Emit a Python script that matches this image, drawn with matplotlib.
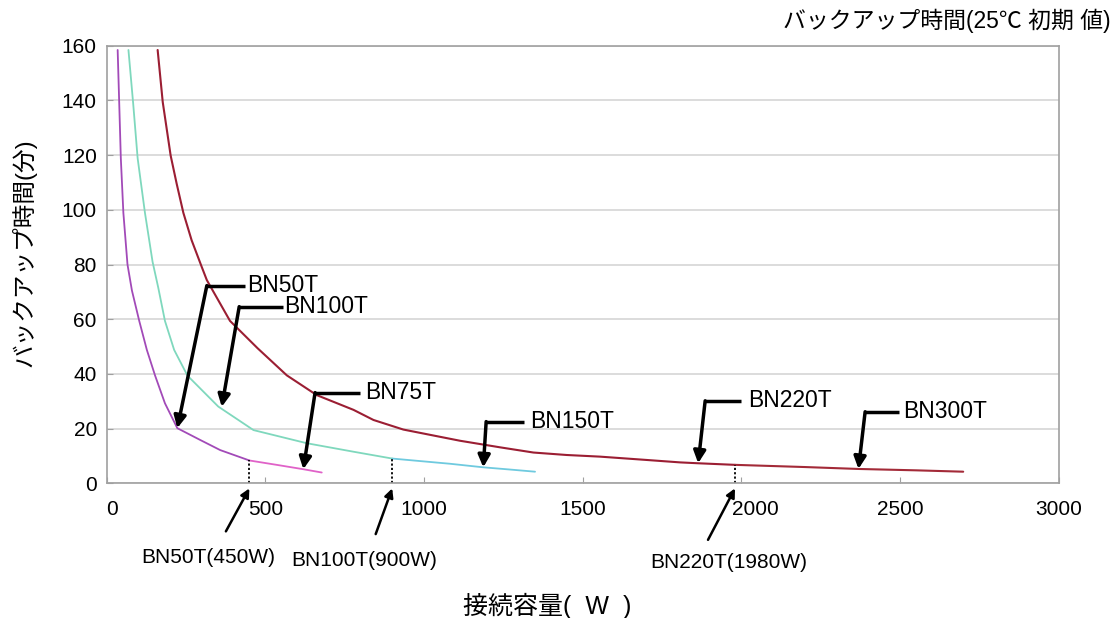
import matplotlib
matplotlib.use("Agg")
import matplotlib.pyplot as plt
import matplotlib.transforms as mtransforms

plt.rcParams['font.family'] = ['Liberation Sans', 'Noto Sans CJK JP', 'DejaVu Sans']

# backup time curves (x = load W, y = minutes)
bn50t_x = [35, 40, 45, 53, 66, 80, 103, 127, 153, 184, 223, 295, 358, 450]
bn50t_y = [158.4, 138.7, 118.8, 98.9, 80, 70.5, 59.4, 48.8, 39.4, 29.3, 20.2, 15.9, 12.2, 8.4]
bn75t_x = [450, 536, 620, 678]
bn75t_y = [8.4, 6.8, 5.2, 4.0]

bn100t_x = [69, 84, 98, 121, 145, 163, 184, 213, 255, 352, 463, 631, 778, 900]
bn100t_y = [158.4, 138.7, 118.8, 98.9, 81, 71.5, 59.4, 48.8, 39.4, 28.1, 19.5, 14.7, 11.6, 9.1]
bn150t_x = [900, 1082, 1187, 1270, 1350]
bn150t_y = [9.1, 7.2, 5.9, 5.1, 4.3]

bn220t_x = [161, 177, 202, 221, 242, 268, 300, 316, 389, 476, 568, 662, 778, 841,
            935, 1114, 1240, 1345, 1450, 1555, 1700, 1807, 1860, 1980]
bn220t_y = [158.4, 139.4, 119.8, 109.5, 98.9, 88.9, 79.1, 74.3, 59.4, 49.4, 39.5, 32.3, 26.9, 23.2,
            19.7, 15.6, 13.2, 11.3, 10.4, 9.8, 8.6, 7.7, 7.4, 6.8]
bn300t_x = [1980, 2200, 2369, 2550, 2699]
bn300t_y = [6.8, 6.0, 5.3, 4.8, 4.3]

# labelled models and where they point
model_names = ['BN50T', 'BN100T', 'BN75T', 'BN150T', 'BN220T', 'BN300T']
model_text = [(442, 72.3), (559, 64.6), (814, 33.2), (1334, 22.6), (2021, 30.2), (2511, 26.2)]
model_line = [(437, 316), (555, 418), (799, 657), (1316, 1196), (2000, 1886), (2496, 2390)]
model_tip = [(223, 20.2), (363, 28), (620, 5.2), (1187, 5.9), (1864, 7.4), (2369, 5.3)]

# rated capacities marked under the axis
rated_names = ['BN50T(450W)', 'BN100T(900W)', 'BN220T(1980W)']
rated_w = [450, 900, 1980]
rated_t = [8.4, 9.1, 6.8]
rated_text = [(320, -27.2), (811, -28.3), (1961, -29)]
rated_tail = [(376, -17.5), (848, -18.5), (1895, -20.6)]

fig = plt.figure(figsize=(11.18, 6.18), dpi=100)
ax = fig.add_axes([0.0953, 0.2177, 0.8517, 0.7085])

style = dict(solid_joinstyle='round', solid_capstyle='round')
ax.plot(bn50t_x, bn50t_y, color='#a24ab8', lw=1.3, **style)
ax.plot(bn75t_x, bn75t_y, color='#e062c8', lw=1.3, **style)
ax.plot(bn100t_x, bn100t_y, color='#7fd8bd', lw=1.3, **style)
ax.plot(bn150t_x, bn150t_y, color='#6fcadf', lw=1.3, **style)
ax.plot(bn220t_x, bn220t_y, color='#9b1e33', lw=1.5, **style)
ax.plot(bn300t_x, bn300t_y, color='#a32a38', lw=1.5, **style)

ax.set_xlim(0, 3000)
ax.set_ylim(0, 160)
ax.set_xticks(range(0, 3001, 500))
ax.set_yticks(range(0, 161, 20))
ax.grid(axis='y', color='#d6d6d6', lw=1.2)
ax.set_axisbelow(True)
for s in ax.spines.values():
    s.set_color('#a0a0a0')
    s.set_linewidth(1.2)
ax.tick_params(axis='both', direction='in', length=4, color='#a0a0a0',
               labelsize=15, labelcolor='black')
ax.tick_params(axis='x', pad=12)
ax.tick_params(axis='y', pad=7)

# the reference nudges a couple of x labels
xlabels = ax.get_xticklabels()
xlabels[0].set_horizontalalignment('left')
xlabels[4].set_transform(xlabels[4].get_transform() +
                         mtransforms.ScaledTranslation(14 / 100, 0, fig.dpi_scale_trans))

for name, (tx, ty), (lx0, lx1), (px, py) in zip(model_names, model_text, model_line, model_tip):
    ax.text(tx, ty, name, fontsize=16.5, va='center', ha='left')
    ax.plot([lx0, lx1], [ty, ty], color='black', lw=2.5, solid_capstyle='butt')
    ax.annotate('', xy=(px, py), xytext=(lx1, ty),
                arrowprops=dict(arrowstyle='-|>', color='black', lw=2.5,
                                mutation_scale=18, shrinkA=0, shrinkB=0))

for name, w, t, (tx, ty), (ax0, ay0) in zip(rated_names, rated_w, rated_t, rated_text, rated_tail):
    ax.plot([w, w], [0, t], color='black', lw=1.3, ls=(0, (1.2, 1.2)))
    ax.text(tx, ty, name, fontsize=15, ha='center', va='center', clip_on=False)
    ax.annotate('', xy=(w, -1.8), xytext=(ax0, ay0), annotation_clip=False,
                arrowprops=dict(arrowstyle='-|>', color='black', lw=1.8,
                                mutation_scale=13, shrinkA=0, shrinkB=0))

ax.set_ylabel('バックアップ時間(分)', fontsize=17)
ax.yaxis.set_label_coords(-0.074, 0.526)
fig.text(0.489, 0.02, '接続容量(  W  )', fontsize=18, ha='center', va='center')
fig.text(0.993, 0.967, 'バックアップ時間(25℃ 初期 値)', fontsize=16.5, ha='right', va='center')

fig.savefig('out.png', dpi=100)
